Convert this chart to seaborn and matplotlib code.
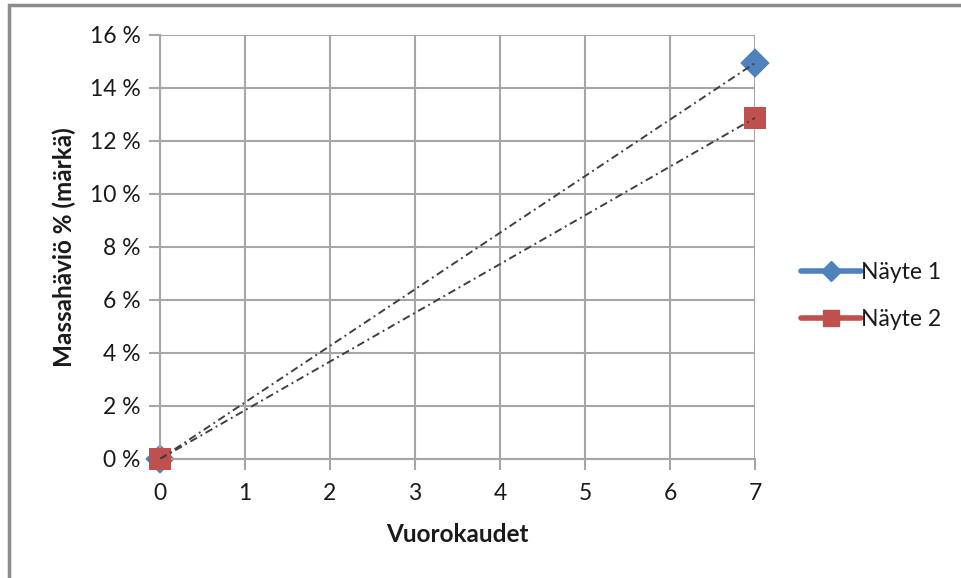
import matplotlib
matplotlib.use("Agg")
import matplotlib.pyplot as plt
from matplotlib.lines import Line2D
from matplotlib.patches import Rectangle
from matplotlib.ticker import FuncFormatter
import seaborn as sns
import pandas as pd

# Mass loss measurements (fraction of wet mass) after 0 and 7 days
days = [0, 7]
sample_names = ["Näyte 1", "Näyte 2"]
nayte1 = [0.0, 0.1494]
nayte2 = [0.0, 0.1287]
colors = ["#4F81BD", "#C0504D"]
markers = ["D", "s"]
marker_sizes = [15, 16]

df = pd.DataFrame({
    "Vuorokaudet": days * 2,
    "Massahavio": nayte1 + nayte2,
    "Näyte": [sample_names[0]] * len(days) + [sample_names[1]] * len(days),
})

sns.set_theme(style="white")
plt.rcParams["font.family"] = ["Lato", "DejaVu Sans"]

fig = plt.figure(figsize=(9.61, 5.78), dpi=100)
ax = fig.add_axes([0.1665, 0.2059, 0.6191, 0.7336])

grid_c = "#A6A6A6"
text_c = "#1a1a1a"

# Linear trendlines through the origin (dash-dot)
for name in sample_names:
    sub = df[df["Näyte"] == name]
    sns.lineplot(data=sub, x="Vuorokaudet", y="Massahavio", ax=ax,
                 color="#404040", lw=1.4, linestyle=(0, (4, 2, 1, 2)),
                 legend=False, zorder=4, errorbar=None)

# Data points
for i, (name, c, m, ms) in enumerate(zip(sample_names, colors, markers, marker_sizes)):
    sub = df[df["Näyte"] == name]
    sns.scatterplot(data=sub, x="Vuorokaudet", y="Massahavio", ax=ax,
                    color=c, marker=m, s=ms ** 2, edgecolor="none",
                    legend=False, zorder=2 + i, clip_on=False)

ax.set_xlim(0, 7)
ax.set_ylim(0, 0.16)
ax.set_xticks(range(0, 8))
ax.set_yticks([i / 100 for i in range(0, 17, 2)])
ax.yaxis.set_major_formatter(FuncFormatter(lambda v, p: f"{round(v * 100)} %"))

ax.grid(True, color=grid_c, lw=1.5)
ax.set_axisbelow(True)
for side in ["top", "right"]:
    ax.spines[side].set_visible(False)
for side in ["left", "bottom"]:
    ax.spines[side].set_color(grid_c)
    ax.spines[side].set_linewidth(1.5)

ax.tick_params(axis="both", which="major", length=8, width=1.5, color=grid_c,
               labelsize=16.5, labelcolor=text_c, pad=6, direction="out",
               bottom=True, left=True)
ax.tick_params(axis="x", pad=9)

ax.set_xlabel("Vuorokaudet", fontsize=17.5, fontweight="bold", color=text_c, labelpad=14)
ax.set_ylabel("Massahäviö % (märkä)", fontsize=17.5, fontweight="bold", color=text_c, labelpad=10)

handles = [Line2D([0], [0], color=c, lw=4, marker=m, markersize=ms * 0.68,
                  markeredgecolor=c)
           for c, m, ms in zip(colors, markers, marker_sizes)]
fig.legend(handles, sample_names, loc="center left", bbox_to_anchor=(0.812, 0.488),
           frameon=False, fontsize=16.5, handlelength=2.6, handletextpad=0.0,
           labelspacing=1.1, labelcolor=text_c)

# Chart frame
fig.patches.append(Rectangle((9 / 961, -0.1), 1.2, 1 - 5 / 578 + 0.1,
                             transform=fig.transFigure, fill=False,
                             edgecolor="#8C8C8C", lw=2.5))

fig.savefig("out.png", dpi=100)
